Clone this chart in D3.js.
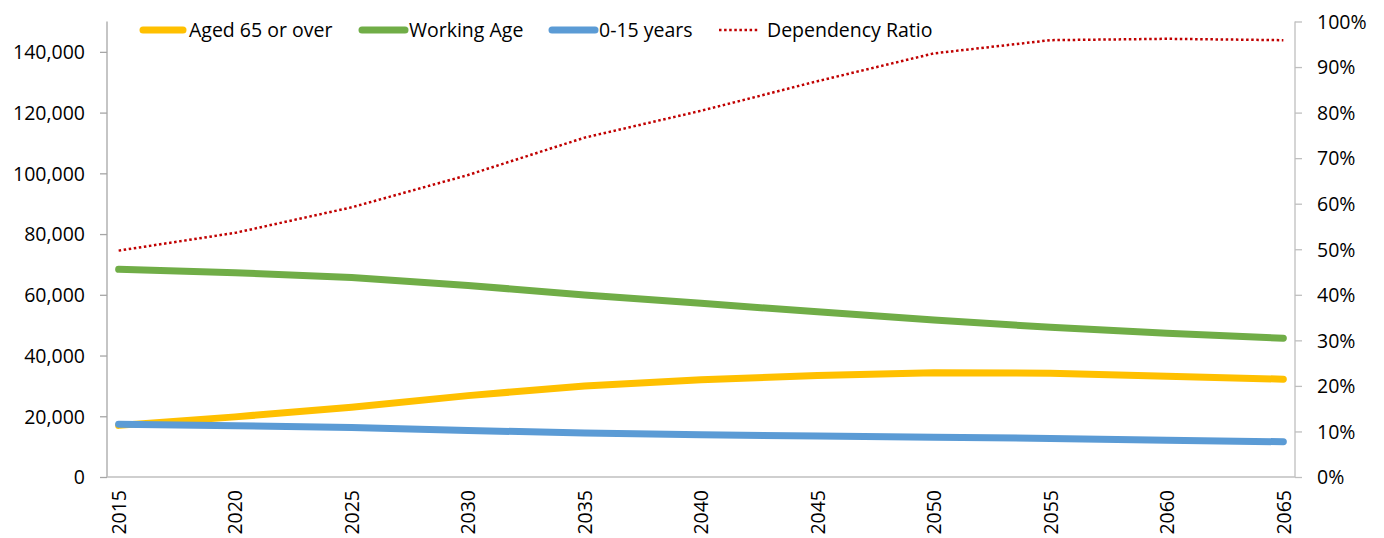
<!DOCTYPE html>
<html>
<head>
<meta charset="utf-8">
<script src="https://cdn.jsdelivr.net/npm/d3@7"></script>
<style>
  html, body { margin: 0; padding: 0; background: #fff; }
  svg text { font-family: "Open Sans", sans-serif; fill: #000; }
</style>
</head>
<body>
<svg id="chart" width="1384" height="538"></svg>
<script>
// Population projection by age group (persons) and dependency ratio
const years = [2015, 2020, 2025, 2030, 2035, 2040, 2045, 2050, 2055, 2060, 2065];
const aged65 = [17000, 19800, 23000, 26800, 30000, 32000, 33400, 34300, 34200, 33200, 32200];
const workingAge = [68400, 67300, 65700, 63100, 59900, 57200, 54400, 51700, 49300, 47300, 45700];
const young = [17400, 16900, 16300, 15300, 14500, 13900, 13500, 13100, 12700, 12100, 11600];
const dependency = [0.497, 0.536, 0.592, 0.663, 0.745, 0.804, 0.869, 0.930, 0.959, 0.962, 0.959];

const leftTicks = [0, 20000, 40000, 60000, 80000, 100000, 120000, 140000];
const rightTicks = [0, 0.1, 0.2, 0.3, 0.4, 0.5, 0.6, 0.7, 0.8, 0.9, 1.0];

const series = [
  { name: "Aged 65 or over", values: aged65, color: "#FFC000" },
  { name: "Working Age", values: workingAge, color: "#70AD47" },
  { name: "0-15 years", values: young, color: "#5B9BD5" }
];

const svg = d3.select("#chart");
const plotLeft = 107, plotRight = 1295, plotTop = 21.5, plotBottom = 477;
const fontSize = 19.5;

const x = d3.scaleLinear().domain([2014.5, 2065.5]).range([plotLeft, plotRight]);
const yL = d3.scaleLinear().domain([0, 150000]).range([plotBottom, plotTop]);
const yR = d3.scaleLinear().domain([0, 1]).range([plotBottom, plotTop]);

// Left axis
const leftAxis = d3.axisLeft(yL).tickValues(leftTicks)
  .tickFormat(d3.format(",")).tickSize(7).tickPadding(15);
const gL = svg.append("g").attr("transform", `translate(${plotLeft},0)`).call(leftAxis);
gL.select(".domain").remove();
gL.selectAll(".tick line").attr("stroke", "#a6a6a6").attr("stroke-width", 1.3);
gL.selectAll(".tick text").style("font-size", fontSize + "px").attr("dy", "0.35em");
svg.append("line").attr("x1", plotLeft).attr("x2", plotLeft).attr("y1", plotTop).attr("y2", plotBottom)
  .attr("stroke", "#a6a6a6").attr("stroke-width", 1.3);

// Right axis
const rightAxis = d3.axisRight(yR).tickValues(rightTicks)
  .tickFormat(d3.format(".0%")).tickSize(7).tickPadding(15);
const gR = svg.append("g").attr("transform", `translate(${plotRight},0)`).call(rightAxis);
gR.select(".domain").remove();
gR.selectAll(".tick line").attr("stroke", "#bfbfbf").attr("stroke-width", 1.3);
gR.selectAll(".tick text").style("font-size", fontSize + "px").attr("dy", "0.35em");
svg.append("line").attr("x1", plotRight).attr("x2", plotRight).attr("y1", plotTop).attr("y2", plotBottom)
  .attr("stroke", "#bfbfbf").attr("stroke-width", 1.3);

// Bottom category axis with rotated year labels
const bottomAxis = d3.axisBottom(x).tickValues(years).tickFormat(d3.format("d")).tickSize(0).tickPadding(0);
const gB = svg.append("g").attr("transform", `translate(0,${plotBottom})`).call(bottomAxis);
gB.select(".domain").remove();
gB.selectAll(".tick text")
  .style("font-size", fontSize + "px")
  .attr("text-anchor", "end")
  .attr("transform", "translate(0,13) rotate(-90)")
  .attr("x", 0).attr("y", 0).attr("dy", "0.35em");
svg.append("line").attr("x1", plotLeft).attr("x2", plotRight).attr("y1", plotBottom).attr("y2", plotBottom)
  .attr("stroke", "#bfbfbf").attr("stroke-width", 1.3);

// Population lines
const line = d3.line().x((d, i) => x(years[i])).y(d => yL(d));
series.forEach(s => {
  svg.append("path").datum(s.values)
    .attr("d", line).attr("fill", "none")
    .attr("stroke", s.color).attr("stroke-width", 7)
    .attr("stroke-linecap", "round").attr("stroke-linejoin", "round");
});

// Dependency ratio on the secondary axis
const depLine = d3.line().x((d, i) => x(years[i])).y(d => yR(d));
svg.append("path").datum(dependency)
  .attr("d", depLine).attr("fill", "none")
  .attr("stroke", "#C00000").attr("stroke-width", 2.5)
  .attr("stroke-dasharray", "2.5 2.6");

// Legend
const legendItems = [
  { name: series[0].name, color: series[0].color, x0: 143, x1: 183, tx: 189, dotted: false },
  { name: series[1].name, color: series[1].color, x0: 362, x1: 405, tx: 409, dotted: false },
  { name: series[2].name, color: series[2].color, x0: 552, x1: 595, tx: 599, dotted: false },
  { name: "Dependency Ratio", color: "#C00000", x0: 719, x1: 758, tx: 767, dotted: true }
];
const ly = 30;
const lg = svg.append("g");
legendItems.forEach(it => {
  const l = lg.append("line").attr("x1", it.x0).attr("x2", it.x1).attr("y1", ly).attr("y2", ly)
    .attr("stroke", it.color);
  if (it.dotted) {
    l.attr("stroke-width", 2.5).attr("stroke-dasharray", "2.5 2.6");
  } else {
    l.attr("stroke-width", 7).attr("stroke-linecap", "round");
  }
  lg.append("text").attr("x", it.tx).attr("y", ly).attr("dy", "0.35em")
    .style("font-size", fontSize + "px").text(it.name);
});
</script>
</body>
</html>
